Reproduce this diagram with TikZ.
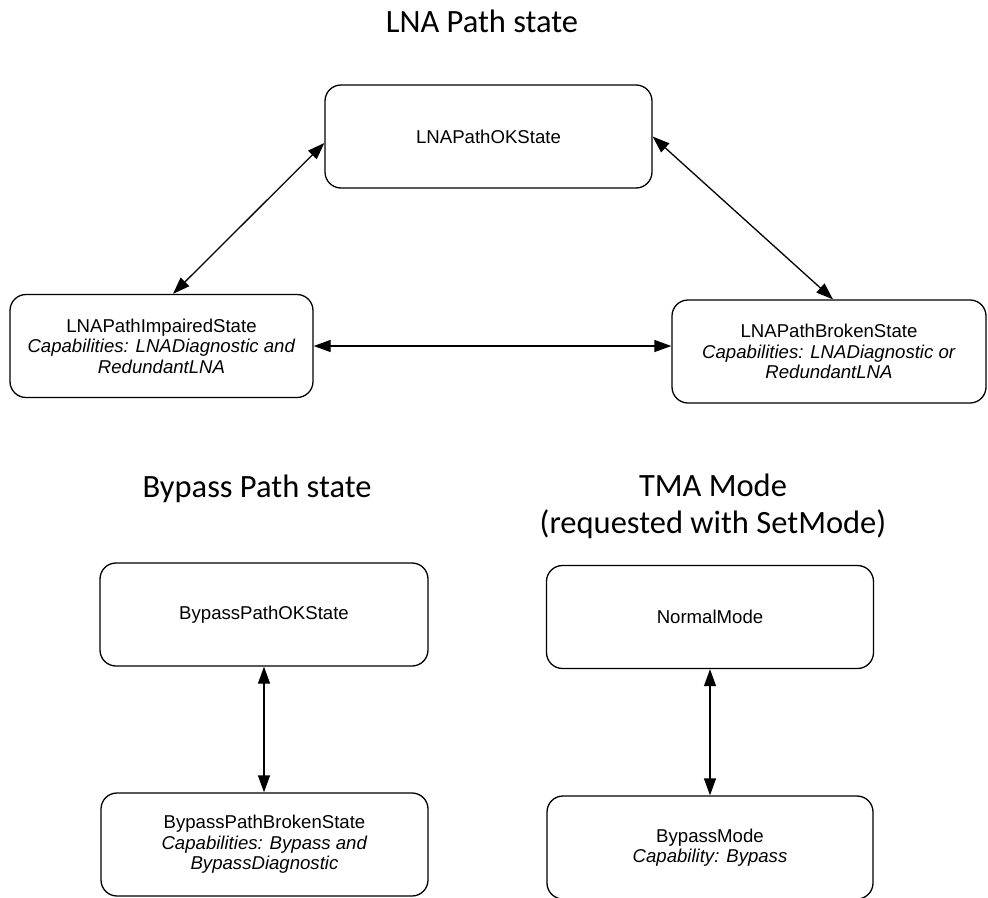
\documentclass[tikz,border=0pt]{standalone}
\usepackage{fontspec}
\setmainfont{Liberation Sans}
\newfontfamily\titlefont{Carlito}
\usetikzlibrary{arrows.meta,positioning}

\begin{document}
\begin{tikzpicture}[
        x=1pt, y=-1pt,
        line width=1.3pt,
        >={Triangle[length=17pt, width=12pt]},
        state node/.style={draw, rounded corners=16pt, align=center,
                minimum width=327pt, minimum height=103pt, inner sep=0pt,
                font=\fontsize{18.6}{20.5}\selectfont},
        title node/.style={align=center, anchor=base, inner sep=0pt,
                font=\titlefont\fontsize{32.5}{36.5}\selectfont},
        both way/.style={<->},
    ]
    \useasboundingbox (0, 0) rectangle (988, 897);

    % Titles of the three state machines
    % (base of a two line node is the base of its last line)
    \node[title node] (lnatitle) at (482, 32) {LNA Path state};
    \node[title node] (bptitle) at (257, 497) {Bypass Path state};
    \node[title node] (tmatitle) at (713, 533) {TMA Mode\\(requested with SetMode)};

    % LNA path states
    \node[state node] (ok) at (488.5, 136.5) {LNAPathOKState};
    \node[state node, minimum width=303pt] (impaired) at (161.5, 346)
        {LNAPathImpairedState\\\textit{Capabilities: LNADiagnostic and}\\\textit{RedundantLNA}};
    \node[state node, minimum width=314pt] (broken) at (829, 351.5)
        {LNAPathBrokenState\\\textit{Capabilities: LNADiagnostic or}\\\textit{RedundantLNA}};

    % Bypass path states
    \node[state node, minimum width=328pt] (bpok) at (264, 614.5) {BypassPathOKState};
    \node[state node] (bpbroken) at (264.5, 844.5)
        {BypassPathBrokenState\\\textit{Capabilities: Bypass and}\\\textit{BypassDiagnostic}};

    % TMA modes
    \node[state node] (normal) at (710, 617) {NormalMode};
    \node[state node, minimum width=326pt] (bpmode) at (710, 847.5)
        {BypassMode\\\textit{Capability: Bypass}};

    % Transitions, all of them both ways
    \draw[both way] ([yshift=-6.5pt]ok.west) -- ([xshift=11.5pt]impaired.north);
    \draw[both way] (ok.east) -- ([xshift=4pt]broken.north);
    \draw[both way] (impaired.east) -- (impaired.east -| broken.west);
    \draw[both way] (bpok.south) -- (bpok.south |- bpbroken.north);
    \draw[both way] (normal.south) -- (normal.south |- bpmode.north);
\end{tikzpicture}
\end{document}
